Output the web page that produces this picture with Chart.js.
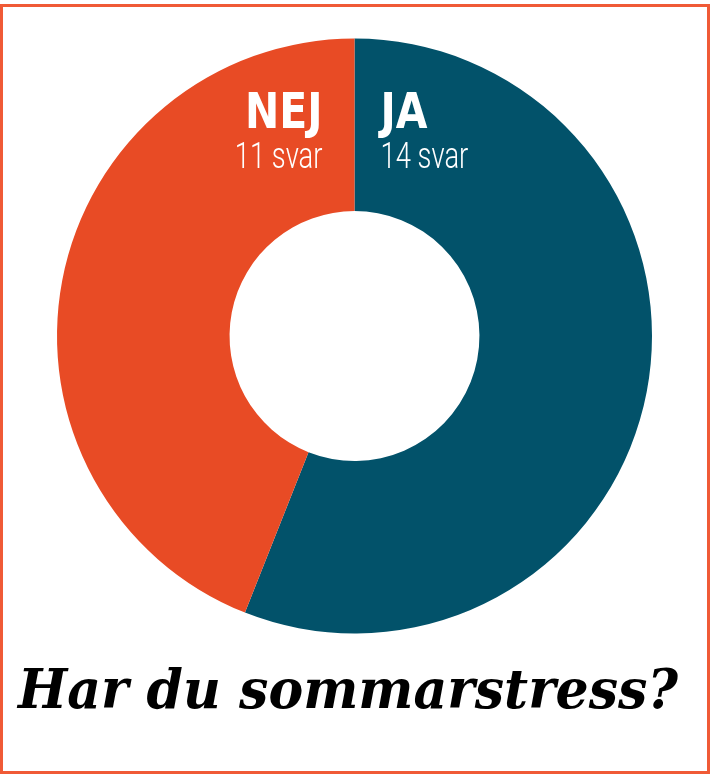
<!DOCTYPE html>
<html>
<head>
<meta charset="utf-8">
<script src="https://cdn.jsdelivr.net/npm/chart.js@4/dist/chart.umd.min.js"></script>
<style>
    html, body { margin: 0; padding: 0; background: #fff; }
    #wrap { position: relative; width: 710px; height: 775px; overflow: hidden; }
    #frame {
        position: absolute; left: 0; top: 4px; width: 710px; height: 770px;
        box-sizing: border-box; border: 3px solid #F05A36;
    }
    #c { position: absolute; left: 0; top: 0; }
</style>
</head>
<body>
<div id="wrap">
    <div id="frame"></div>
    <canvas id="c" width="710" height="775"></canvas>
</div>
<script>
// --- data ---
const answers = ['JA', 'NEJ'];
const counts = [14, 11];
const sliceColors = ['#02526A', '#E84B25'];
const title = 'Har du sommarstress?';

// draw text squeezed to a narrower width (the original uses a condensed face)
function squeezedText(ctx, text, x, y, sx) {
    ctx.save();
    ctx.translate(x, y);
    ctx.scale(sx, 1);
    ctx.fillText(text, 0, 0);
    ctx.restore();
}

// labels over the ring: answer name + "N svar"
const ringLabels = {
    id: 'ringLabels',
    afterDraw(chart) {
        const ctx = chart.ctx;
        const arc = chart.getDatasetMeta(0).data[0];
        const cx = arc.x;
        const top = arc.y - arc.outerRadius;
        ctx.save();
        ctx.fillStyle = '#fff';
        ctx.textBaseline = 'alphabetic';

        // NEJ to the left of the divider, JA to the right
        const sides = [
            { i: 1, x: cx - 32, align: 'right' },
            { i: 0, x: cx + 26, align: 'left' }
        ];
        sides.forEach(s => {
            ctx.textAlign = s.align;
            ctx.font = 'bold 50px "DejaVu Sans Condensed", sans-serif';
            squeezedText(ctx, answers[s.i], s.x, top + 89, 0.91);
            ctx.font = '300 37px Roboto, sans-serif';
            squeezedText(ctx, counts[s.i] + ' svar', s.x, top + 129, 0.74);
        });

        // question under the chart
        ctx.fillStyle = '#000';
        ctx.textAlign = 'center';
        ctx.font = 'italic bold 55px "DejaVu Serif", serif';
        const w = ctx.measureText(title).width;
        squeezedText(ctx, title, 348, 708, 660 / w);
        ctx.restore();
    }
};

new Chart(document.getElementById('c'), {
    type: 'doughnut',
    data: {
        labels: answers,
        datasets: [{
            data: counts,
            backgroundColor: sliceColors,
            borderWidth: 0,
            hoverOffset: 0
        }]
    },
    options: {
        responsive: false,
        animation: false,
        cutout: '42%',
        layout: {
            padding: { left: 57, top: 38.5, right: 58, bottom: 141.5 }
        },
        plugins: {
            legend: { display: false },
            tooltip: { enabled: false }
        }
    },
    plugins: [ringLabels]
});
</script>
</body>
</html>
